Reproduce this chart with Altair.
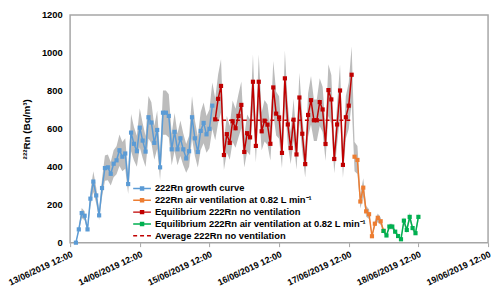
import altair as alt
import pandas as pd

# ---- data (hourly readings) ----
SERIES = [
    "222Rn growth curve",
    "222Rn air ventilation at 0.82 L min⁻¹",
    "Equilibrium 222Rn no ventilation",
    "Equilibrium 222Rn air ventilation at 0.82 L min⁻¹",
]
COLORS = ["#5b9bd5", "#ed7d31", "#c00000", "#00b050"]
AVG_NAME = "Average 222Rn no ventilation"
AVG_COLOR = "#c00000"

growth_curve = [0, 70, 156, 142, 70, 232, 322, 249, 144, 288, 393, 397, 363, 416, 434, 487,
                453, 470, 309, 580, 521, 482, 606, 538, 480, 661, 633, 526, 594, 397, 685, 685,
                668, 492, 584, 492, 550, 492, 444, 482, 661, 550, 478, 589, 631, 571, 600, 722]
air_vent = [453, 436, 217, 290, 165, 150, 34, 100, 131, 113, 62]
eq_no_vent = [650, 758, 826, 462, 572, 526, 640, 603, 668, 726, 478, 577, 555, 848, 510, 848,
              587, 643, 622, 521, 818, 680, 660, 473, 866, 623, 499, 648, 465, 765, 574, 414,
              673, 751, 645, 645, 741, 702, 520, 804, 755, 441, 623, 802, 410, 661, 722, 885]
eq_air_vent = [62, 38, 85, 85, 58, 35, 18, 116, 67, 136, 77, 50, 136]
average_no_vent = 645

series_values = [growth_curve, air_vent, eq_no_vent, eq_air_vent]
series_starts = ["2019-06-13 14:00", "2019-06-17 14:00", "2019-06-15 14:00", "2019-06-18 00:00"]
avg_span = ["2019-06-15 14:00", "2019-06-17 13:00"]
REL_UNCERTAINTY = 0.17

tick_days = [13, 14, 15, 16, 17, 18, 19]
y_ticks = [0, 200, 400, 600, 800, 1000, 1200]

# ---- build tables ----
rows = []
for name, vals, start in zip(SERIES, series_values, series_starts):
    times = pd.date_range(start, periods=len(vals), freq="h")
    for t, v in zip(times, vals):
        rows.append({"t": t.strftime("%Y-%m-%dT%H:%M:%S"), "v": v, "s": name})
df = pd.DataFrame(rows)

avg_df = pd.DataFrame({
    "t": [pd.Timestamp(avg_span[0]).strftime("%Y-%m-%dT%H:%M:%S")],
    "t2": [pd.Timestamp(avg_span[1]).strftime("%Y-%m-%dT%H:%M:%S")],
    "v": [average_no_vent],
    "a": [AVG_NAME],
})

FONT = "Liberation Sans, Arial, sans-serif"
GREY = "#a6a6a6"

xdomain = [alt.DateTime(year=2019, month=6, date=tick_days[0], hours=12),
           alt.DateTime(year=2019, month=6, date=tick_days[-1], hours=12)]
xticks = [alt.DateTime(year=2019, month=6, date=d, hours=12) for d in tick_days]

x_axis = alt.Axis(
    values=xticks,
    labelExpr="timeFormat(datum.value, '%d/%m/%Y %H:%M')",
    labelAngle=-25, labelAlign="right", labelBaseline="top",
    labelFont=FONT, labelFontSize=9, labelFontWeight="bold", labelColor="#000000",
    labelPadding=3, labelOverlap=False, labelBound=False, labelFlush=False,
    grid=False, domain=False, ticks=True, tickSize=4, tickColor=GREY, title=None,
)
y_axis = alt.Axis(
    values=y_ticks, format="d", grid=False, domain=False, ticks=False,
    labelOverlap=False,
    labelFont=FONT, labelFontSize=9.5, labelFontWeight="bold", labelColor="#000000",
    labelPadding=8,
    title="²²²Rn (Bq/m³)", titleFont=FONT, titleFontSize=10, titleFontWeight="bold",
    titleColor="#000000", titlePadding=10,
)
x_scale = alt.Scale(domain=xdomain, nice=False)
y_scale = alt.Scale(domain=[0, 1200], nice=False)

x_enc = alt.X("t:T", scale=x_scale, axis=x_axis)
y_enc = alt.Y("v:Q", scale=y_scale, axis=y_axis)

LEG_X, LEG_Y, ROW = 66, 169, 12
series_legend = alt.Legend(
    title=None, orient="none", legendX=LEG_X, legendY=LEG_Y, padding=0,
    symbolType="M-1.5,0H1.5M-0.25,-0.25H0.25V0.25H-0.25Z",
    symbolSize=144, symbolStrokeWidth=1.5,
    labelFont=FONT, labelFontSize=9.5, labelFontWeight="bold", labelColor="#000000",
    labelOffset=6, rowPadding=0, labelLimit=400,
)
avg_legend = alt.Legend(
    title=None, orient="none", legendX=LEG_X, legendY=LEG_Y + 4 * ROW, padding=0,
    symbolType="M-1.5,0H1.5", symbolSize=144, symbolStrokeWidth=1.5,
    symbolStrokeColor=AVG_COLOR,
    labelFont=FONT, labelFontSize=9.5, labelFontWeight="bold", labelColor="#000000",
    labelOffset=6, rowPadding=0, labelLimit=400,
)

color_scale = alt.Scale(domain=SERIES, range=COLORS)

base = alt.Chart(df)

band = base.transform_calculate(
    lo=f"datum.v * (1 - {REL_UNCERTAINTY})",
    hi=f"datum.v * (1 + {REL_UNCERTAINTY})",
).mark_area(color="#bcbcbc", opacity=1).encode(
    x=x_enc, y=alt.Y("lo:Q", scale=y_scale, axis=y_axis), y2=alt.Y2("hi:Q")
)

lines = base.mark_line(strokeWidth=1.5).encode(
    x=x_enc, y=y_enc,
    color=alt.Color("s:N", scale=color_scale, legend=series_legend),
    detail="s:N",
)
pts = base.mark_square(size=18, opacity=1).encode(
    x=x_enc, y=y_enc, color=alt.Color("s:N", scale=color_scale, legend=None)
)

avg_rule = alt.Chart(avg_df).mark_rule(strokeWidth=1.5, color=AVG_COLOR).encode(
    x=alt.X("t:T", scale=x_scale, axis=x_axis), x2="t2:T",
    y=alt.Y("v:Q", scale=y_scale, axis=y_axis),
    strokeDash=alt.StrokeDash("a:N", scale=alt.Scale(domain=[AVG_NAME], range=[[4, 3]]),
                              legend=avg_legend),
)

chart = alt.layer(band, lines, avg_rule, pts).properties(
    width=424, height=231,
    autosize=alt.AutoSizeParams(type="none"),
    padding={"left": 63, "top": 5, "right": 4, "bottom": 50},
    background="white",
).configure_view(stroke=GREY, strokeWidth=1.5)

chart.save("out.html", embed_options={"renderer": "svg", "actions": False})
